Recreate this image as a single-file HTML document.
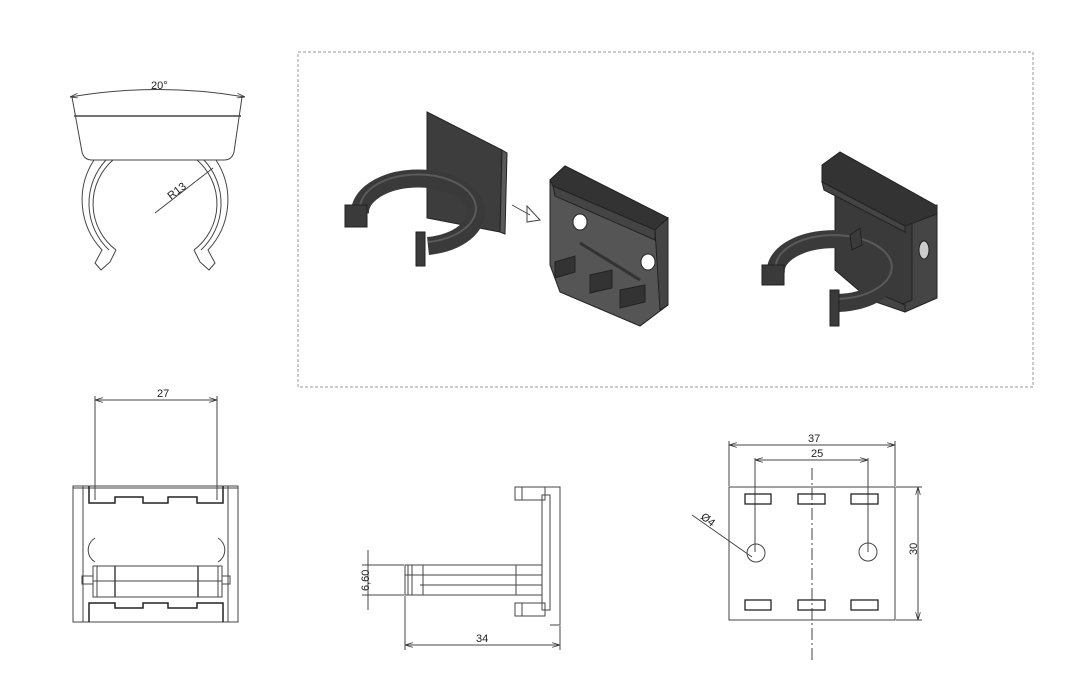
<!DOCTYPE html>
<html><head><meta charset="utf-8"><style>
html,body{margin:0;padding:0;background:#fff;width:1080px;height:693px;overflow:hidden}
svg text{font-family:"Liberation Sans",sans-serif;fill:#222}
</style></head><body>
<svg width="1080" height="693" viewBox="0 0 1080 693" xmlns="http://www.w3.org/2000/svg">
<defs><marker id="a" viewBox="0 0 10 6" refX="10" refY="3" markerWidth="8" markerHeight="5" orient="auto-start-reverse"><path d="M0 0L10 3L0 6" fill="none" stroke="#333" stroke-width="1"/></marker></defs>
<g fill="none" stroke="#444" stroke-width="1">
<!-- top-left front view -->
<path d="M70 97 Q158 82 245 97" marker-start="url(#a)" marker-end="url(#a)"/>
<text x="151" y="89" font-size="11" stroke="none">20°</text>
<path d="M72 97 L82 152 Q84 160 92 160 L224 160 Q232 160 234 152 L242 97"/>
<line x1="74" y1="116" x2="241" y2="116" stroke-width="1.5"/>
<path d="M94 160 A73 73 0 0 0 102 250 L95 263 L101 270 L110 262 L116 250"/>
<path d="M113 160 A58 58 0 0 0 116 250"/>
<path d="M106 160 A64 64 0 0 0 109 250"/>
<path d="M216 160 A73 73 0 0 1 208 250 L215 263 L209 270 L200 262 L194 250"/>
<path d="M197 160 A58 58 0 0 1 194 250"/>
<path d="M204 160 A64 64 0 0 1 201 250"/>
<line x1="155" y1="213" x2="213" y2="168"/>
<text x="0" y="0" font-size="11" stroke="none" transform="translate(171 200) rotate(-38)">R13</text>
<!-- dashed box -->
<rect x="298" y="52" width="735" height="335" stroke="#999" stroke-dasharray="3 2"/>
<!-- bottom-left view -->
<line x1="95" y1="400" x2="217" y2="400" marker-start="url(#a)" marker-end="url(#a)"/>
<line x1="95" y1="396" x2="95" y2="500"/><line x1="217" y1="396" x2="217" y2="500"/>
<text x="157" y="397" font-size="11" stroke="none">27</text>
<rect x="73" y="486" width="165" height="136"/>
<line x1="73" y1="488" x2="238" y2="488"/>
<path d="M89 486 V503 H115 V497 H143 V503 H168 V497 H197 V503 H223 V486" stroke-width="1.5" stroke="#222"/>
<path d="M89 622 V603 H115 V608 H143 V603 H168 V608 H197 V603 H223 V622" stroke-width="1.5" stroke="#222"/>
<line x1="83" y1="486" x2="83" y2="622"/><line x1="228" y1="486" x2="228" y2="622"/>
<rect x="93" y="566" width="129" height="31"/>
<line x1="115" y1="566" x2="115" y2="597" stroke-width="1.5"/><line x1="198" y1="566" x2="198" y2="597" stroke-width="1.5"/>
<line x1="97" y1="566" x2="97" y2="597"/><line x1="218" y1="566" x2="218" y2="597"/>
<line x1="93" y1="581" x2="222" y2="581"/>
<rect x="82" y="576" width="11" height="8"/><rect x="222" y="576" width="8" height="8"/>
<path d="M95 538 A14 14 0 0 0 95 562"/><path d="M218 538 A14 14 0 0 1 218 562"/>
<!-- side view -->
<path d="M515 487 H560 V625 H550"/>
<rect x="542" y="495" width="8" height="115"/>
<rect x="515" y="487" width="30" height="13"/><line x1="522" y1="487" x2="522" y2="500"/>
<rect x="515" y="603" width="30" height="13"/><line x1="522" y1="603" x2="522" y2="616"/>
<rect x="405" y="565" width="137" height="30"/>
<line x1="405" y1="575" x2="542" y2="575"/><line x1="420" y1="585" x2="542" y2="585"/>
<line x1="408" y1="565" x2="408" y2="595"/><line x1="412" y1="565" x2="412" y2="595"/><line x1="423" y1="565" x2="423" y2="595"/><line x1="516" y1="565" x2="516" y2="595"/>
<line x1="368" y1="550" x2="368" y2="610"/>
<line x1="362" y1="565" x2="404" y2="565"/><line x1="362" y1="595" x2="404" y2="595"/>
<text font-size="11" stroke="none" transform="translate(369 591) rotate(-90)">6,60</text>
<line x1="405" y1="645" x2="560" y2="645" marker-start="url(#a)" marker-end="url(#a)"/>
<line x1="405" y1="596" x2="405" y2="650"/><line x1="560" y1="626" x2="560" y2="650"/>
<text x="476" y="642" font-size="11" stroke="none">34</text>
<!-- right view -->
<rect x="729" y="487" width="166" height="133"/>
<line x1="729" y1="445" x2="895" y2="445" marker-start="url(#a)" marker-end="url(#a)"/>
<line x1="729" y1="441" x2="729" y2="486"/><line x1="895" y1="441" x2="895" y2="486"/>
<text x="808" y="442" font-size="11" stroke="none">37</text>
<line x1="755" y1="460" x2="868" y2="460" marker-start="url(#a)" marker-end="url(#a)"/>
<line x1="755" y1="458" x2="755" y2="552"/><line x1="868" y1="458" x2="868" y2="552"/>
<text x="811" y="457" font-size="11" stroke="none">25</text>
<line x1="918" y1="487" x2="918" y2="620" marker-start="url(#a)" marker-end="url(#a)"/>
<line x1="896" y1="487" x2="922" y2="487"/><line x1="896" y1="620" x2="922" y2="620"/>
<text font-size="11" stroke="none" transform="translate(917 555) rotate(-90)">30</text>
<line x1="812" y1="468" x2="812" y2="662" stroke-dasharray="12 3 2 3"/>
<g stroke="#222" stroke-width="1.3">
<rect x="745" y="494" width="26" height="10"/><rect x="798" y="494" width="27" height="10"/><rect x="851" y="494" width="27" height="10"/>
<rect x="745" y="600" width="26" height="10"/><rect x="798" y="600" width="27" height="10"/><rect x="851" y="600" width="27" height="10"/>
</g>
<circle cx="756" cy="553" r="9"/><circle cx="868" cy="552" r="9"/>
<line x1="692" y1="515" x2="752" y2="557"/>
<text font-size="11" stroke="none" transform="translate(700 518) rotate(38)">Ø4</text>
</g>
<!-- iso part 1: clip -->
<g stroke="#222" stroke-width="1">
<polygon points="427,112 502,150 500,232 427,218" fill="#3d3d3d"/>
<polygon points="502,150 507,153 505,234 500,232" fill="#5a5a5a"/>
<path d="M360 214 A58 34 0 1 1 428 246" fill="none" stroke="#3a3a3a" stroke-width="18"/>
<path d="M360 210 A58 34 0 1 1 428 242" fill="none" stroke="#5a5a5a" stroke-width="2"/>
<rect x="345" y="205" width="22" height="22" fill="#3a3a3a"/>
<rect x="416" y="232" width="9" height="34" fill="#3a3a3a"/>
</g>
<g fill="none" stroke="#444"><line x1="512" y1="205" x2="530" y2="215"/><polygon points="527,206 540,220 527,222"/></g>
<!-- iso part 2: holder -->
<g stroke="#222">
<polygon points="550,180 565,166 668,218 668,305 640,326 560,292 550,265" fill="#555"/>
<polygon points="550,180 565,166 668,218 655,230 553,186" fill="#333"/>
<polygon points="553,186 655,230 655,240 555,196" fill="#444"/>
<polygon points="655,230 668,218 668,305 660,310" fill="#444"/>
<ellipse cx="580" cy="222" rx="7" ry="8" fill="#fff"/><ellipse cx="648" cy="262" rx="7" ry="8" fill="#fff"/>
<polygon points="555,262 575,256 575,272 555,278" fill="#333"/>
<polygon points="590,275 612,270 612,288 590,293" fill="#333"/>
<polygon points="620,290 645,285 645,302 620,308" fill="#333"/>
<line x1="580" y1="243" x2="640" y2="280" stroke="#333" stroke-width="3"/>
</g>
<!-- iso part 3: assembly -->
<g stroke="#222">
<polygon points="835,180 915,220 915,305 870,300 835,270" fill="#3a3a3a"/>
<polygon points="912,215 937,205 937,298 905,312 900,305 912,300" fill="#454545"/>
<polygon points="822,165 840,152 937,206 937,214 905,226 822,182" fill="#333"/>
<polygon points="822,182 905,226 905,232 824,190" fill="#444"/>
<ellipse cx="924" cy="250" rx="5" ry="9" fill="#ccc"/>
<polygon points="870,290 905,305 905,312 870,300" fill="#444"/>
<path d="M776 274 A58 32 0 1 1 838 303" fill="none" stroke="#3a3a3a" stroke-width="18"/>
<path d="M776 270 A58 32 0 1 1 838 299" fill="none" stroke="#5a5a5a" stroke-width="2"/>
<rect x="762" y="265" width="22" height="20" fill="#3a3a3a"/>
<rect x="830" y="290" width="9" height="36" fill="#3a3a3a"/>
<polygon points="850,235 860,228 862,245 852,250" fill="#3a3a3a"/>
</g>
</svg>
</body></html>
